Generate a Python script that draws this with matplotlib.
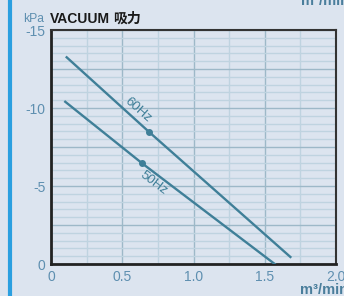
import numpy as np
import matplotlib.pyplot as plt
from matplotlib.lines import Line2D

plt.rcParams['font.family'] = ['Liberation Sans', 'Noto Sans CJK SC']

# flow (m3/min) vs vacuum (kPa), straight lines with one marked point
flow_60 = [0.11, 0.69, 1.68]
vac_60 = [-13.25, -8.45, -0.45]
flow_50 = [0.10, 0.64, 1.57]
vac_50 = [-10.4, -6.45, 0.0]
mark_60 = 1
mark_50 = 1

x_ticks = [0, 0.5, 1.0, 1.5, 2.0]
x_labels = ['0', '0.5', '1.0', '1.5', '2.0']
y_ticks = [0, -5, -10, -15]
y_labels = ['0', '-5', '-10', '-15']

bg = '#dce4ef'
line_c = '#3f7f98'
tick_c = '#5e8fb0'

fig = plt.figure(figsize=(3.44, 2.96), dpi=100, facecolor=bg)
ax = fig.add_axes([51/344, 32/296, 285/344, 234/296], facecolor=bg)

# grid
for v in np.arange(0, 2.01, 0.25):
    major = abs(v*2 - round(v*2)) < 1e-6
    ax.axvline(v, color='#9db8c8' if major else '#bfd3e0', lw=1.0, zorder=1)
for v in np.arange(0, -15.01, -0.5):
    major = abs(v/2.5 - round(v/2.5)) < 1e-6
    ax.axhline(v, color='#9db8c8' if major else '#bfd3e0', lw=1.0, zorder=1)

ax.plot(flow_60, vac_60, color=line_c, lw=1.7, zorder=3)
ax.plot(flow_50, vac_50, color=line_c, lw=1.7, zorder=3)
ax.plot(flow_60[mark_60], vac_60[mark_60], 'o', color=line_c, ms=4, zorder=4)
ax.plot(flow_50[mark_50], vac_50[mark_50], 'o', color=line_c, ms=4, zorder=4)

ax.text(0.61, -9.9, '60Hz', rotation=-41.5, color=line_c, fontsize=9.5,
        ha='center', va='center', rotation_mode='anchor', zorder=5)
ax.text(0.719, -5.16, '50Hz', rotation=-37.5, color=line_c, fontsize=9.5,
        ha='center', va='center', rotation_mode='anchor', zorder=5)

ax.set_xlim(0, 2.0)
ax.set_ylim(0, -15)
ax.set_xticks(x_ticks)
ax.set_xticklabels(x_labels)
ax.set_yticks(y_ticks)
ax.set_yticklabels(y_labels)
ax.tick_params(length=0, colors=tick_c, labelsize=10, pad=4)
for s in ['left', 'bottom']:
    ax.spines[s].set_linewidth(2)
    ax.spines[s].set_color('#222222')
for s in ['top', 'right']:
    ax.spines[s].set_linewidth(1.5)
    ax.spines[s].set_color('#333333')

fig.text(23/344, 1 - 22/296, 'kPa', color=tick_c, fontsize=8.7, va='baseline')
fig.text(50/344, 1 - 23/296, 'VACUUM', color='#1a1a1a', fontsize=10,
         fontweight='bold', va='baseline')
fig.text(113/344, 1 - 23/296, '吸力', color='#1a1a1a', fontsize=10,
         fontweight='bold', va='baseline')
fig.text(300/344, 1 - 294/296, 'm³/min', color='#4a7e9c', fontsize=10.5,
         fontweight='bold', va='baseline')
fig.text(301/344, 1 - 5/296, 'm³/min', color='#4a7e9c', fontsize=10.5,
         fontweight='bold', va='baseline')

fig.add_artist(Line2D([9.5/344, 9.5/344], [0, 1], color='#2a9fe0', lw=3))

fig.savefig('out.png', dpi=100, facecolor=bg)
